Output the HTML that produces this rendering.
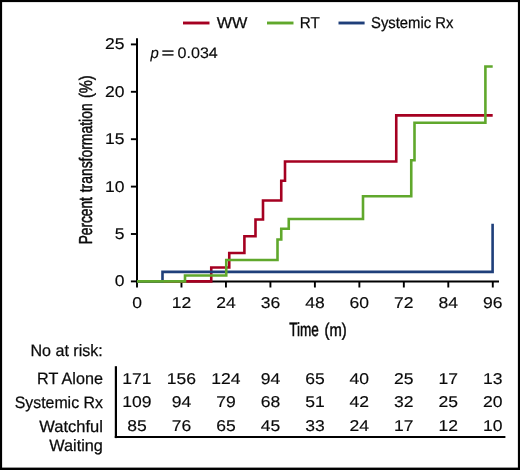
<!DOCTYPE html>
<html lang="en"><head><meta charset="utf-8"><title>Percent transformation</title>
<style>html,body{margin:0;padding:0;background:#fff}svg{display:block;will-change:transform}text{font-family:"Liberation Sans",sans-serif;fill:#0a0a0a;text-rendering:geometricPrecision}</style>
</head><body>
<svg width="520" height="470" viewBox="0 0 520 470">
<rect x="0" y="0" width="520" height="470" fill="#fff"/>
<rect x="0" y="0" width="520" height="2.1" fill="#000"/>
<rect x="0" y="0" width="2.1" height="470" fill="#000"/>
<rect x="517.9" y="0" width="2.1" height="470" fill="#000"/>
<rect x="0" y="467.6" width="520" height="2.4" fill="#000"/>
<line x1="137.0" y1="38.2" x2="137.0" y2="282.4" stroke="#000" stroke-width="2.0"/>
<line x1="136.0" y1="281.4" x2="499" y2="281.4" stroke="#000" stroke-width="2.0"/>
<line x1="130.9" y1="281.40" x2="137.0" y2="281.40" stroke="#000" stroke-width="1.9"/>
<line x1="130.9" y1="234.00" x2="137.0" y2="234.00" stroke="#000" stroke-width="1.9"/>
<line x1="130.9" y1="186.60" x2="137.0" y2="186.60" stroke="#000" stroke-width="1.9"/>
<line x1="130.9" y1="139.20" x2="137.0" y2="139.20" stroke="#000" stroke-width="1.9"/>
<line x1="130.9" y1="91.80" x2="137.0" y2="91.80" stroke="#000" stroke-width="1.9"/>
<line x1="130.9" y1="44.40" x2="137.0" y2="44.40" stroke="#000" stroke-width="1.9"/>
<line x1="137.00" y1="281.4" x2="137.00" y2="287.5" stroke="#000" stroke-width="1.9"/>
<line x1="181.47" y1="281.4" x2="181.47" y2="287.5" stroke="#000" stroke-width="1.9"/>
<line x1="225.94" y1="281.4" x2="225.94" y2="287.5" stroke="#000" stroke-width="1.9"/>
<line x1="270.42" y1="281.4" x2="270.42" y2="287.5" stroke="#000" stroke-width="1.9"/>
<line x1="314.89" y1="281.4" x2="314.89" y2="287.5" stroke="#000" stroke-width="1.9"/>
<line x1="359.36" y1="281.4" x2="359.36" y2="287.5" stroke="#000" stroke-width="1.9"/>
<line x1="403.83" y1="281.4" x2="403.83" y2="287.5" stroke="#000" stroke-width="1.9"/>
<line x1="448.30" y1="281.4" x2="448.30" y2="287.5" stroke="#000" stroke-width="1.9"/>
<line x1="492.78" y1="281.4" x2="492.78" y2="287.5" stroke="#000" stroke-width="1.9"/>
<polyline points="137.00,281.40 211.25,281.40 211.25,267.50 229.25,267.50 229.25,253.00 244.40,253.00 244.40,236.25 255.50,236.25 255.50,219.50 263.00,219.50 263.00,200.50 281.25,200.50 281.25,180.75 285.00,180.75 285.00,161.50 396.25,161.50 396.25,115.40 492.70,115.40" fill="none" stroke="#A50021" stroke-width="2.6" stroke-linejoin="miter" stroke-linecap="butt"/>
<polyline points="137.00,281.40 162.50,281.40 162.50,271.90 492.60,271.90 492.60,223.80" fill="none" stroke="#1F3F7A" stroke-width="2.6" stroke-linejoin="miter" stroke-linecap="butt"/>
<polyline points="137.00,281.40 185.00,281.40 185.00,275.50 226.25,275.50 226.25,260.00 277.50,260.00 277.50,239.50 281.25,239.50 281.25,228.75 288.75,228.75 288.75,219.00 363.00,219.00 363.00,196.25 411.25,196.25 411.25,160.25 414.50,160.25 414.50,122.80 485.40,122.80 485.40,66.50 492.70,66.50" fill="none" stroke="#60A82C" stroke-width="2.6" stroke-linejoin="miter" stroke-linecap="butt"/>
<text transform="translate(124.60,286.40) scale(1.118,1)" font-size="15.7" text-anchor="end" stroke="#0a0a0a" stroke-width="0.15">0</text>
<text transform="translate(124.60,239.00) scale(1.118,1)" font-size="15.7" text-anchor="end" stroke="#0a0a0a" stroke-width="0.15">5</text>
<text transform="translate(124.60,191.60) scale(1.118,1)" font-size="15.7" text-anchor="end" stroke="#0a0a0a" stroke-width="0.15">10</text>
<text transform="translate(124.60,144.20) scale(1.118,1)" font-size="15.7" text-anchor="end" stroke="#0a0a0a" stroke-width="0.15">15</text>
<text transform="translate(124.60,96.80) scale(1.118,1)" font-size="15.7" text-anchor="end" stroke="#0a0a0a" stroke-width="0.15">20</text>
<text transform="translate(124.60,49.40) scale(1.118,1)" font-size="15.7" text-anchor="end" stroke="#0a0a0a" stroke-width="0.15">25</text>
<text transform="translate(137.00,308.30) scale(1.118,1)" font-size="15.7" text-anchor="middle" stroke="#0a0a0a" stroke-width="0.15">0</text>
<text transform="translate(181.47,308.30) scale(1.118,1)" font-size="15.7" text-anchor="middle" stroke="#0a0a0a" stroke-width="0.15">12</text>
<text transform="translate(225.94,308.30) scale(1.118,1)" font-size="15.7" text-anchor="middle" stroke="#0a0a0a" stroke-width="0.15">24</text>
<text transform="translate(270.42,308.30) scale(1.118,1)" font-size="15.7" text-anchor="middle" stroke="#0a0a0a" stroke-width="0.15">36</text>
<text transform="translate(314.89,308.30) scale(1.118,1)" font-size="15.7" text-anchor="middle" stroke="#0a0a0a" stroke-width="0.15">48</text>
<text transform="translate(359.36,308.30) scale(1.118,1)" font-size="15.7" text-anchor="middle" stroke="#0a0a0a" stroke-width="0.15">60</text>
<text transform="translate(403.83,308.30) scale(1.118,1)" font-size="15.7" text-anchor="middle" stroke="#0a0a0a" stroke-width="0.15">72</text>
<text transform="translate(448.30,308.30) scale(1.118,1)" font-size="15.7" text-anchor="middle" stroke="#0a0a0a" stroke-width="0.15">84</text>
<text transform="translate(492.78,308.30) scale(1.118,1)" font-size="15.7" text-anchor="middle" stroke="#0a0a0a" stroke-width="0.15">96</text>
<text transform="translate(289.30,335.50) scale(0.745,1.05)" font-size="18.2" text-anchor="start" stroke="#0a0a0a" stroke-width="0.5">Time</text>
<text transform="translate(346.80,335.50) scale(0.815,1)" font-size="18.2" text-anchor="end" stroke="#0a0a0a" stroke-width="0.5">(m)</text>
<text transform="translate(92.3,220.7) rotate(-90) scale(0.752,1.03)" font-size="18.2" text-anchor="middle" stroke="#0a0a0a" stroke-width="0.5">Percent</text>
<text transform="translate(92.3,147.85) rotate(-90) scale(0.766,1.0)" font-size="18.2" text-anchor="middle" stroke="#0a0a0a" stroke-width="0.5">transformation</text>
<text transform="translate(92.3,86.75) rotate(-90) scale(0.804,1.0)" font-size="18.2" text-anchor="middle" stroke="#0a0a0a" stroke-width="0.5">(%)</text>
<text transform="translate(150.60,57.90) scale(0.98,1)" font-size="15.2" text-anchor="start" font-style="italic" stroke="#0a0a0a" stroke-width="0.15">p</text>
<text transform="translate(168.00,57.90) scale(1.45,1)" font-size="15.2" text-anchor="middle" stroke="#0a0a0a" stroke-width="0.25">=</text>
<text transform="translate(177.50,57.90) scale(1.06,1)" font-size="15.2" text-anchor="start" stroke="#0a0a0a" stroke-width="0.15">0.034</text>
<line x1="183" y1="23" x2="209.5" y2="23" stroke="#A50021" stroke-width="2.9"/>
<text transform="translate(216.70,27.80) scale(1.03,1)" font-size="15.8" text-anchor="start" stroke="#0a0a0a" stroke-width="0.25">WW</text>
<line x1="267" y1="23" x2="293.5" y2="23" stroke="#60A82C" stroke-width="2.9"/>
<text transform="translate(299.70,28.00) scale(0.962,1)" font-size="15.8" text-anchor="start" stroke="#0a0a0a" stroke-width="0.25">RT</text>
<line x1="338.5" y1="23" x2="364.6" y2="23" stroke="#1F3F7A" stroke-width="2.9"/>
<text transform="translate(371.00,28.20) scale(0.938,1)" font-size="15.8" text-anchor="start" stroke="#0a0a0a" stroke-width="0.25">Systemic Rx</text>
<text transform="translate(102.80,355.50) scale(0.973544,1)" font-size="16.5" text-anchor="end" stroke="#0a0a0a" stroke-width="0.25">No at risk:</text>
<text transform="translate(102.90,384.40) scale(0.979316,1)" font-size="16.5" text-anchor="end" stroke="#0a0a0a" stroke-width="0.25">RT Alone</text>
<text transform="translate(137.00,383.90) scale(1.118,1)" font-size="15.7" text-anchor="middle" stroke="#0a0a0a" stroke-width="0.15">171</text>
<text transform="translate(181.47,383.90) scale(1.118,1)" font-size="15.7" text-anchor="middle" stroke="#0a0a0a" stroke-width="0.15">156</text>
<text transform="translate(225.94,383.90) scale(1.118,1)" font-size="15.7" text-anchor="middle" stroke="#0a0a0a" stroke-width="0.15">124</text>
<text transform="translate(270.42,383.90) scale(1.118,1)" font-size="15.7" text-anchor="middle" stroke="#0a0a0a" stroke-width="0.15">94</text>
<text transform="translate(314.89,383.90) scale(1.118,1)" font-size="15.7" text-anchor="middle" stroke="#0a0a0a" stroke-width="0.15">65</text>
<text transform="translate(359.36,383.90) scale(1.118,1)" font-size="15.7" text-anchor="middle" stroke="#0a0a0a" stroke-width="0.15">40</text>
<text transform="translate(403.83,383.90) scale(1.118,1)" font-size="15.7" text-anchor="middle" stroke="#0a0a0a" stroke-width="0.15">25</text>
<text transform="translate(448.30,383.90) scale(1.118,1)" font-size="15.7" text-anchor="middle" stroke="#0a0a0a" stroke-width="0.15">17</text>
<text transform="translate(492.78,383.90) scale(1.118,1)" font-size="15.7" text-anchor="middle" stroke="#0a0a0a" stroke-width="0.15">13</text>
<text transform="translate(102.90,407.90) scale(0.962,1)" font-size="16.5" text-anchor="end" stroke="#0a0a0a" stroke-width="0.25">Systemic Rx</text>
<text transform="translate(137.00,407.40) scale(1.118,1)" font-size="15.7" text-anchor="middle" stroke="#0a0a0a" stroke-width="0.15">109</text>
<text transform="translate(181.47,407.40) scale(1.118,1)" font-size="15.7" text-anchor="middle" stroke="#0a0a0a" stroke-width="0.15">94</text>
<text transform="translate(225.94,407.40) scale(1.118,1)" font-size="15.7" text-anchor="middle" stroke="#0a0a0a" stroke-width="0.15">79</text>
<text transform="translate(270.42,407.40) scale(1.118,1)" font-size="15.7" text-anchor="middle" stroke="#0a0a0a" stroke-width="0.15">68</text>
<text transform="translate(314.89,407.40) scale(1.118,1)" font-size="15.7" text-anchor="middle" stroke="#0a0a0a" stroke-width="0.15">51</text>
<text transform="translate(359.36,407.40) scale(1.118,1)" font-size="15.7" text-anchor="middle" stroke="#0a0a0a" stroke-width="0.15">42</text>
<text transform="translate(403.83,407.40) scale(1.118,1)" font-size="15.7" text-anchor="middle" stroke="#0a0a0a" stroke-width="0.15">32</text>
<text transform="translate(448.30,407.40) scale(1.118,1)" font-size="15.7" text-anchor="middle" stroke="#0a0a0a" stroke-width="0.15">25</text>
<text transform="translate(492.78,407.40) scale(1.118,1)" font-size="15.7" text-anchor="middle" stroke="#0a0a0a" stroke-width="0.15">20</text>
<text transform="translate(102.90,431.60) scale(1.00048,1)" font-size="16.5" text-anchor="end" stroke="#0a0a0a" stroke-width="0.25">Watchful</text>
<text transform="translate(137.00,431.10) scale(1.118,1)" font-size="15.7" text-anchor="middle" stroke="#0a0a0a" stroke-width="0.15">85</text>
<text transform="translate(181.47,431.10) scale(1.118,1)" font-size="15.7" text-anchor="middle" stroke="#0a0a0a" stroke-width="0.15">76</text>
<text transform="translate(225.94,431.10) scale(1.118,1)" font-size="15.7" text-anchor="middle" stroke="#0a0a0a" stroke-width="0.15">65</text>
<text transform="translate(270.42,431.10) scale(1.118,1)" font-size="15.7" text-anchor="middle" stroke="#0a0a0a" stroke-width="0.15">45</text>
<text transform="translate(314.89,431.10) scale(1.118,1)" font-size="15.7" text-anchor="middle" stroke="#0a0a0a" stroke-width="0.15">33</text>
<text transform="translate(359.36,431.10) scale(1.118,1)" font-size="15.7" text-anchor="middle" stroke="#0a0a0a" stroke-width="0.15">24</text>
<text transform="translate(403.83,431.10) scale(1.118,1)" font-size="15.7" text-anchor="middle" stroke="#0a0a0a" stroke-width="0.15">17</text>
<text transform="translate(448.30,431.10) scale(1.118,1)" font-size="15.7" text-anchor="middle" stroke="#0a0a0a" stroke-width="0.15">12</text>
<text transform="translate(492.78,431.10) scale(1.118,1)" font-size="15.7" text-anchor="middle" stroke="#0a0a0a" stroke-width="0.15">10</text>
<text transform="translate(102.90,451.00) scale(0.985088,1)" font-size="16.5" text-anchor="end" stroke="#0a0a0a" stroke-width="0.25">Waiting</text>
<line x1="115.9" y1="366.2" x2="115.9" y2="438.1" stroke="#000" stroke-width="2.2"/>
<line x1="114.8" y1="437.0" x2="505.4" y2="437.0" stroke="#000" stroke-width="2.2"/>
</svg></body></html>
